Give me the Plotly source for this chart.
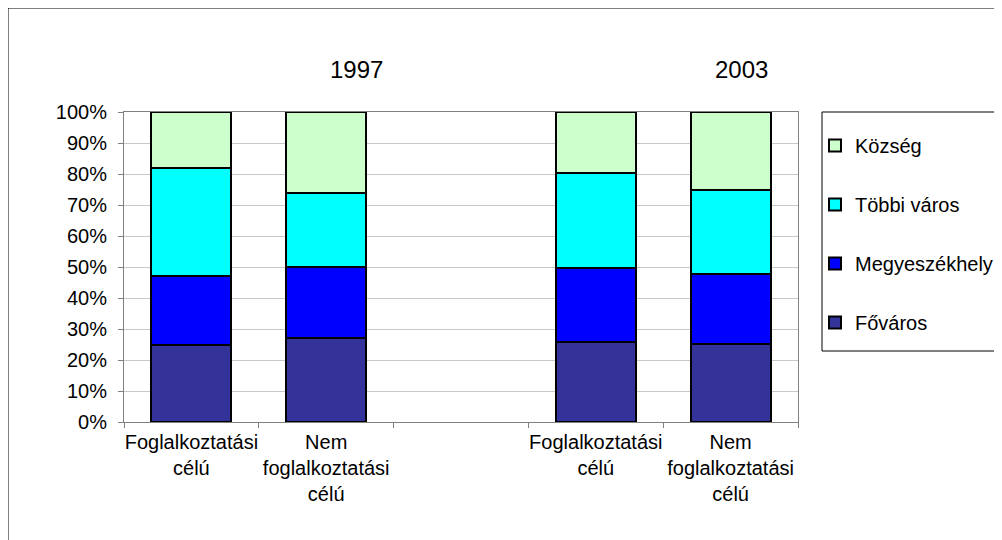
import plotly.graph_objects as go

# ---- data ----
categories = ["F1997", "N1997", "gap", "F2003", "N2003"]
tick_labels = ["Foglalkoztatási<br>célú", "Nem<br>foglalkoztatási<br>célú", "",
               "Foglalkoztatási<br>célú", "Nem<br>foglalkoztatási<br>célú"]
series_names = ["Főváros", "Megyeszékhely", "Többi város", "Község"]
fovaros = [25.0, 27.0, None, 25.7, 25.3]
megyeszekhely = [22.0, 23.0, None, 24.1, 22.5]
tobbi_varos = [35.0, 24.0, None, 30.6, 26.9]
kozseg = [18.0, 26.0, None, 19.6, 25.3]
year_labels = ["1997", "2003"]
y_ticks = [0, 10, 20, 30, 40, 50, 60, 70, 80, 90, 100]
y_tick_text = [f"{v}%" for v in y_ticks]

colors = ["#333399", "#0000FF", "#00FFFF", "#CCFFCC"]
FONT = "Liberation Sans, Arial, sans-serif"

# page offset (body margin) compensation
OFF = 8
W, H = 1002, 540
# plot area in screen pixels
L, R, T, B = 124, 798, 112, 422


def px_x(p):
    return (p - L) / (R - L)


def px_y(p):
    return (B - p) / (B - T)


fig = go.Figure()
n = len(series_names)
for i, (name, vals, col) in enumerate(zip(series_names, [fovaros, megyeszekhely, tobbi_varos, kozseg], colors)):
    fig.add_trace(go.Bar(
        x=categories, y=vals, name=name, legendgroup=name,
        legendrank=n - i,
        marker=dict(color=col, line=dict(color="black", width=2)),
    ))

fig.update_layout(
    width=W, height=H,
    margin=dict(l=L - OFF, r=W - (R - OFF), t=T - OFF, b=H - (B - OFF), autoexpand=False),
    barmode="stack",
    bargap=0.406,
    plot_bgcolor="white",
    paper_bgcolor="white",
    font=dict(family=FONT, size=20, color="black"),
    showlegend=True,
    legend=dict(
        traceorder="grouped",
        tracegroupgap=30,
        x=px_x(815), xanchor="left",
        y=px_y(126), yanchor="top",
        bgcolor="rgba(0,0,0,0)",
        borderwidth=0,
        font=dict(family=FONT, size=20, color="black"),
        itemwidth=30,
    ),
    xaxis=dict(
        type="category",
        categoryorder="array", categoryarray=categories,
        tickmode="array", tickvals=categories, ticktext=tick_labels,
        tickson="boundaries", tickangle=0, automargin=False,
        ticks="outside", ticklen=5, tickcolor="#808080",
        ticklabelstandoff=2,
        showline=True, linecolor="#808080", linewidth=1, mirror=True,
        showgrid=False,
        range=[-0.5, 4.5],
        tickfont=dict(family=FONT, size=20, color="black"),
    ),
    yaxis=dict(
        range=[0, 100], automargin=False,
        tickmode="array", tickvals=y_ticks, ticktext=y_tick_text,
        ticks="outside", ticklen=5, tickcolor="#808080",
        ticklabelstandoff=7,
        showline=True, linecolor="#808080", linewidth=1, mirror=True,
        showgrid=True, gridcolor="#C8C8C8", gridwidth=1,
        zeroline=False,
        tickfont=dict(family=FONT, size=20, color="black"),
    ),
)

# year labels
for txt, cx in zip(year_labels, [356, 741]):
    fig.add_annotation(
        text=txt, xref="paper", yref="paper",
        x=px_x(cx), y=px_y(70), xanchor="center", yanchor="middle",
        showarrow=False, font=dict(family=FONT, size=24, color="black"),
    )

# outer chart border and legend box
fig.add_shape(type="rect", xref="paper", yref="paper",
              x0=px_x(8), x1=px_x(1030), y0=px_y(570), y1=px_y(8),
              line=dict(color="black", width=1), fillcolor="rgba(0,0,0,0)", layer="below")
fig.add_shape(type="rect", xref="paper", yref="paper",
              x0=px_x(822), x1=px_x(1030), y0=px_y(351), y1=px_y(112),
              line=dict(color="black", width=1), fillcolor="rgba(0,0,0,0)")

fig.write_html("out.html")
